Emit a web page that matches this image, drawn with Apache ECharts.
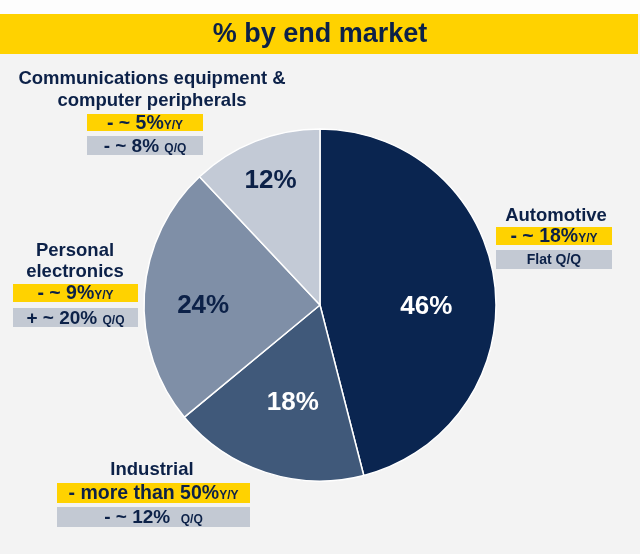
<!DOCTYPE html>
<html><head><meta charset="utf-8">
<script src="https://cdn.jsdelivr.net/npm/echarts@6/dist/echarts.min.js"></script>
<style>html,body{margin:0;padding:0;background:#f3f3f3}#c{width:640px;height:554px}</style>
</head><body><div id="c"></div>
<script>
const categories = ['Automotive', 'Industrial', 'Personal electronics', 'Communications equipment & computer peripherals'];
const shares = [46, 18, 24, 12];
const yoyText = ['- ~ 18%', '- more than 50%', '- ~ 9%', '- ~ 5%'];
const qoqText = ['Flat', '- ~ 12% ', '+ ~ 20%', '- ~ 8%'];
const titleText = '% by end market';

const FONT = '"Liberation Sans", Arial, sans-serif';
const NAVY = '#0c2148';
const YELLOW = '#ffd200';
const GREY = '#c3c9d3';
const sliceColors = ['#0a2550', '#40597a', '#7f8fa7', '#c3cad6'];
const labelColors = ['#ffffff', '#ffffff', NAVY, NAVY];
const labelShift = [[16, 13], [1, 11], [-26, 7], [-16, -40]];

// callout layout: title lines, title center x, first line y, line height, box x, box width, yellow y/h, grey y/h
const calloutLayout = [
  { lines: ['Automotive'], cx: 556, ty: 216, lh: 22, bx: 496, bw: 116, yy: 227, yh: 18, gy: 250, gh: 19, qSmall: true },
  { lines: ['Industrial'], cx: 152, ty: 470, lh: 22, bx: 57, bw: 193, yy: 483, yh: 20, gy: 507, gh: 20 },
  { lines: ['Personal', 'electronics'], cx: 75, ty: 251, lh: 21, bx: 13, bw: 125, yy: 284, yh: 18, gy: 308, gh: 19 },
  { lines: ['Communications equipment &', 'computer peripherals'], cx: 152, ty: 79, lh: 22, bx: 87, bw: 116, yy: 114, yh: 17, gy: 136, gh: 19 }
];

const graphics = [
  { type: 'rect', shape: { x: 0, y: 0, width: 640, height: 14 }, style: { fill: '#fdfdfd' }, z: 0 },
  { type: 'rect', shape: { x: 0, y: 14, width: 638, height: 40 }, style: { fill: YELLOW }, z: 1 },
  { type: 'text', z: 2, style: { x: 320, y: 35, text: titleText, align: 'center', verticalAlign: 'middle',
      fontSize: 27, fontWeight: 'bold', fontFamily: FONT, fill: NAVY } }
];

calloutLayout.forEach((L, i) => {
  const cx = L.bx + L.bw / 2;
  L.lines.forEach((t, k) => {
    graphics.push({ type: 'text', z: 2, style: { x: L.cx, y: L.ty + k * L.lh, text: t, align: 'center', verticalAlign: 'middle',
      fontSize: 18.5, fontWeight: 'bold', fontFamily: FONT, fill: NAVY } });
  });
  graphics.push({ type: 'rect', z: 1, shape: { x: L.bx, y: L.yy, width: L.bw, height: L.yh }, style: { fill: YELLOW } });
  graphics.push({ type: 'rect', z: 1, shape: { x: L.bx, y: L.gy, width: L.bw, height: L.gh }, style: { fill: GREY } });
  graphics.push({ type: 'text', z: 2, style: { x: cx, y: L.yy + L.yh / 2 + 1, text: '{b|' + yoyText[i] + '}{s|Y/Y}',
      align: 'center', verticalAlign: 'middle', fontFamily: FONT, fill: NAVY,
      rich: { b: { fontSize: 19.5, fontWeight: 'bold', fontFamily: FONT, fill: NAVY, color: NAVY },
              s: { fontSize: 12, fontWeight: 'bold', fontFamily: FONT, fill: NAVY, color: NAVY, padding: [4, 0, 0, 0] } } } });
  const qText = L.qSmall ? '{s|' + qoqText[i] + ' Q/Q}' : '{b|' + qoqText[i] + ' }{s|Q/Q}';
  graphics.push({ type: 'text', z: 2, style: { x: cx, y: L.gy + L.gh / 2 + 1, text: qText,
      align: 'center', verticalAlign: 'middle', fontFamily: FONT, fill: NAVY,
      rich: { b: { fontSize: 19, fontWeight: 'bold', fontFamily: FONT, fill: NAVY, color: NAVY },
              s: { fontSize: L.qSmall ? 14 : 12, fontWeight: 'bold', fontFamily: FONT, fill: NAVY, color: NAVY, padding: L.qSmall ? 0 : [4, 0, 0, 0] } } } });
});

const chart = echarts.init(document.getElementById('c'), null, { renderer: 'canvas' });
chart.setOption({
  backgroundColor: '#f3f3f3',
  animation: false,
  graphic: graphics,
  series: [{
    type: 'pie',
    center: [320, 305],
    radius: 176,
    startAngle: 90,
    clockwise: true,
    silent: true,
    itemStyle: { borderColor: '#ffffff', borderWidth: 1.5 },
    label: { show: true, position: 'inside', formatter: '{c}%', fontSize: 26, fontWeight: 'bold', fontFamily: FONT },
    labelLine: { show: false },
    labelLayout: function (p) { const s = labelShift[p.dataIndex]; return { dx: s[0], dy: s[1] }; },
    data: categories.map((n, i) => ({ name: n, value: shares[i],
      itemStyle: { color: sliceColors[i] }, label: { color: labelColors[i] } }))
  }]
});
</script>
</body></html>
